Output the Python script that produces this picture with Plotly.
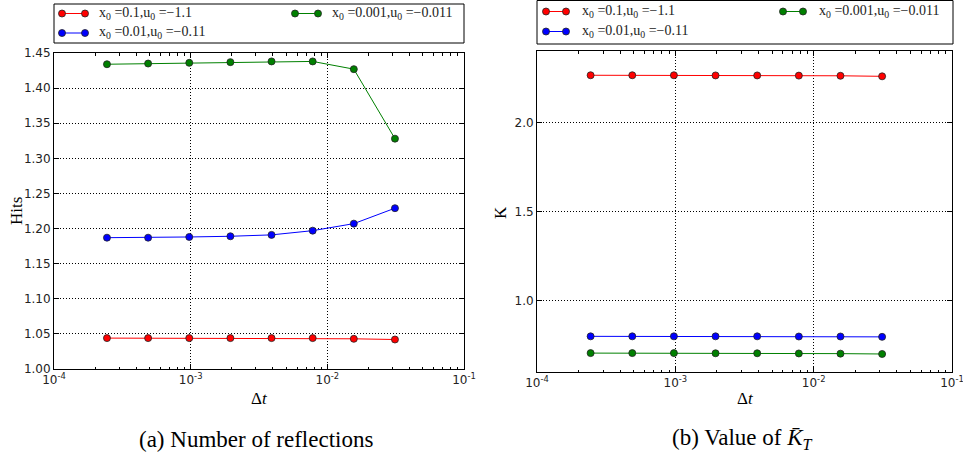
import plotly.graph_objects as go

W, H = 963, 467

dt = [0.000244140625, 0.00048828125, 0.0009765625, 0.001953125,
      0.00390625, 0.0078125, 0.015625, 0.03125]

labels = ["x<sub>0</sub> =0.1,u<sub>0</sub> =\u22121.1",
          "x<sub>0</sub> =0.01,u<sub>0</sub> =\u22120.11",
          "x<sub>0</sub> =0.001,u<sub>0</sub> =\u22120.011"]
colors = ["#ff0000", "#0000ff", "#008000"]

hits_red = [1.044, 1.044, 1.044, 1.044, 1.044, 1.044, 1.043, 1.042]
hits_blue = [1.187, 1.187, 1.188, 1.189, 1.191, 1.197, 1.207, 1.229]
hits_green = [1.434, 1.435, 1.436, 1.437, 1.438, 1.438, 1.427, 1.328]

k_red = [2.264, 2.264, 2.264, 2.263, 2.263, 2.262, 2.261, 2.258]
k_blue = [0.800, 0.800, 0.800, 0.800, 0.800, 0.799, 0.799, 0.797]
k_green = [0.706, 0.706, 0.706, 0.705, 0.705, 0.704, 0.703, 0.701]

x_tickvals = [1e-4, 1e-3, 1e-2, 1e-1]
x_ticktext = ["10<sup>-4</sup>", "10<sup>-3</sup>", "10<sup>-2</sup>", "10<sup>-1</sup>"]
x_minor = [m * 10.0 ** e for e in (-4, -3, -2) for m in range(2, 10)]

SERIF = "Times New Roman, Liberation Serif, serif"
SANS = "DejaVu Sans"

fig = go.Figure()

for ys, name, col in zip([hits_red, hits_blue, hits_green], labels, colors):
    fig.add_trace(go.Scatter(
        x=dt, y=ys, name=name, mode="lines+markers", showlegend=False,
        line=dict(color=col, width=1),
        marker=dict(color=col, size=7, line=dict(color="#222222", width=0.8)),
        xaxis="x", yaxis="y"))

for ys, name, col in zip([k_red, k_blue, k_green], labels, colors):
    fig.add_trace(go.Scatter(
        x=dt, y=ys, name=name, mode="lines+markers", showlegend=False,
        line=dict(color=col, width=1),
        marker=dict(color=col, size=7, line=dict(color="#222222", width=0.8)),
        xaxis="x2", yaxis="y2"))


def px(x):
    return x / W


def py(y):
    return 1 - y / H


GRID_DASH = "1px,2px"

common_x = dict(
    type="log", range=[-4, -1], tickvals=x_tickvals, ticktext=x_ticktext,
    ticks="inside", ticklen=5, tickcolor="black", mirror="allticks",
    showline=True, linecolor="black", linewidth=1, automargin=False,
    ticklabeloverflow="allow",
    showgrid=True, gridcolor="black", griddash=GRID_DASH, gridwidth=1,
    minor=dict(tickvals=x_minor, ticks="inside", ticklen=2.5, tickcolor="black", showgrid=False),
    tickfont=dict(family=SANS, size=12, color="#222222"),
    zeroline=False,
)
common_y = dict(
    ticks="inside", ticklen=5, tickcolor="black", mirror="allticks",
    showline=True, linecolor="black", linewidth=1, automargin=False,
    ticklabeloverflow="allow",
    showgrid=True, gridcolor="black", griddash=GRID_DASH, gridwidth=1,
    tickfont=dict(family=SANS, size=12, color="#222222"),
    zeroline=False,
)

shapes = [
    dict(type="rect", xref="paper", yref="paper", x0=px(54), x1=px(464), y0=py(43), y1=py(4),
         line=dict(color="black", width=1)),
    dict(type="rect", xref="paper", yref="paper", x0=px(537), x1=px(953), y0=py(44), y1=py(0.5),
         line=dict(color="black", width=1)),
]


def text_ann(text, x, y, size, angle=0, xanchor="center", color="black"):
    return dict(text=text, x=px(x), y=py(y), xref="paper", yref="paper",
                showarrow=False, xanchor=xanchor, yanchor="middle", textangle=angle,
                font=dict(family=SERIF, size=size, color=color))


annotations = [
    text_ann("(a) Number of reflections", 256, 439, 23),
    text_ann("(b) Value of <i>K\u0304</i><sub><i>T</i></sub>", 742, 439, 23),
    text_ann("\u0394<i>t</i>", 259, 398, 17),
    text_ann("\u0394<i>t</i>", 745, 398, 17),
    text_ann("Hits", 16, 211, 17, angle=-90),
    text_ann("K", 500, 213, 17, angle=-90),
]

# manual legends (matplotlib style: line with a marker at each end, column-major order)
legend_slots = {
    "left": [(62, 85, 97, 13.5), (62, 85, 97, 33), (295, 318, 330, 13.5)],
    "right": [(546, 566, 580, 11.5), (546, 566, 580, 31.5), (783, 803, 817, 11.5)],
}
for side in ("left", "right"):
    for (x0, x1, xt, yy), name, col in zip(legend_slots[side], labels, colors):
        shapes.append(dict(type="line", xref="paper", yref="paper",
                           x0=px(x0), x1=px(x1), y0=py(yy), y1=py(yy),
                           line=dict(color=col, width=1)))
        for cx in (x0, x1):
            shapes.append(dict(type="circle", xref="paper", yref="paper",
                               x0=px(cx - 3.5), x1=px(cx + 3.5), y0=py(yy + 3.5), y1=py(yy - 3.5),
                               fillcolor=col, line=dict(color="#222222", width=0.8)))
        annotations.append(text_ann(name, xt, yy, 14, xanchor="left", color="#222222"))

fig.update_layout(
    width=W, height=H, margin=dict(l=0, r=0, t=0, b=0),
    paper_bgcolor="white", plot_bgcolor="white", showlegend=False,
    xaxis=dict(common_x, domain=[px(54), px(464)], anchor="y"),
    yaxis=dict(common_y, domain=[py(369), py(53)], anchor="x",
               range=[1.0, 1.45], dtick=0.05, tick0=1.0, tickformat=".2f"),
    xaxis2=dict(common_x, domain=[px(537), px(952)], anchor="y2"),
    yaxis2=dict(common_y, domain=[py(372), py(51)], anchor="x2",
                range=[0.6, 2.4], tickvals=[1.0, 1.5, 2.0], tickformat=".1f"),
    shapes=shapes,
    annotations=annotations,
)

fig.write_html("out.html", config={"displayModeBar": False},
               post_script="document.body.style.margin='0';document.body.style.overflow='hidden';")
